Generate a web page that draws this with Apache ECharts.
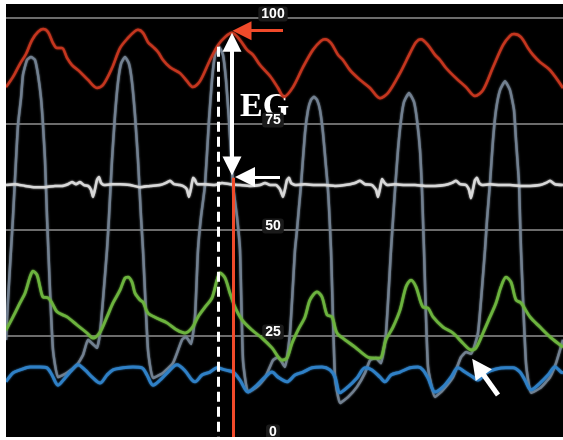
<!DOCTYPE html>
<html><head><meta charset="utf-8">
<script src="https://cdn.jsdelivr.net/npm/echarts@6/dist/echarts.min.js"></script>
<style>html,body{margin:0;padding:0;background:#000;}#c{width:563px;height:440px;}</style>
</head><body><div id="c"></div>
<script>
// x = time (sample index), y = pressure (mmHg)
const yTickStep = 25;

const aorticPressure = [[6,83.7],[13,86.1],[20,89.2],[26,91.5],[32,94.8],[38,96.7],[43,97.4],[48,96.7],[53,94.1],[57,92.9],[62,92.9],[67,90.6],[72,88.9],[80,87.3],[88,85.4],[97,83.5],[103,84.2],[112,88.2],[120,92.9],[128,95.3],[135,96.9],[138,97.2],[143,96.5],[148,94.3],[153,93.2],[158,92.0],[163,90.1],[170,88.4],[180,87.0],[187,85.1],[193,83.7],[200,85.1],[210,90.1],[218,93.6],[225,95.5],[232,96.5],[240,94.8],[247,92.5],[253,91.3],[260,88.9],[270,86.3],[278,83.5],[284,81.4],[293,83.7],[303,88.4],[313,92.5],[321,94.6],[325,95.0],[331,94.1],[338,91.3],[343,90.1],[350,87.7],[360,85.4],[370,83.5],[380,81.1],[388,82.3],[400,87.0],[410,91.7],[416,94.3],[421,95.0],[428,93.6],[435,91.3],[440,90.1],[446,88.2],[456,85.8],[466,83.7],[475,81.6],[483,83.0],[493,88.4],[503,93.6],[510,95.8],[514,96.2],[521,95.5],[528,92.9],[533,91.3],[540,89.6],[550,87.7],[563,83.5]];

const lvPressure = [[6,24.1],[8,33.5],[11,45.3],[13,53.1],[16,66.5],[18,74.8],[21,81.1],[23,86.6],[27,90.1],[31,90.8],[35,90.1],[38,86.6],[41,81.1],[43,74.8],[45,66.5],[47,53.1],[50,35.8],[53,21.7],[58,15.3],[67,16.3],[77,18.2],[83,20.5],[88,24.1],[92,23.3],[97,22.2],[100,25.7],[103,33.5],[107,45.3],[109,53.1],[112,66.5],[115,77.1],[118,84.9],[121,89.2],[125,90.8],[129,89.2],[132,84.9],[135,77.1],[138,66.5],[141,53.1],[143,45.3],[148,21.7],[153,15.1],[163,16.3],[173,18.6],[182,24.1],[186,24.8],[191,23.1],[195,29.5],[198,45.3],[201,53.1],[205,60.6],[209,75.9],[212,85.4],[215,91.3],[219,93.2],[223,91.3],[226,85.4],[229,75.9],[233,60.6],[237,53.1],[240,45.3],[243,19.3],[248,11.8],[257,13.0],[265,15.1],[273,19.3],[278,20.0],[285,17.7],[290,25.7],[295,45.3],[297,50.0],[299,55.4],[301,60.6],[305,72.9],[308,78.3],[311,80.7],[314,81.4],[317,80.7],[320,78.3],[323,72.9],[326,64.9],[328,59.4],[329,55.4],[331,45.3],[335,15.3],[340,9.2],[348,10.6],[357,13.0],[365,16.3],[370,19.3],[376,19.8],[381,18.6],[386,25.7],[391,45.3],[393,52.4],[395,59.4],[398,68.9],[401,75.9],[404,80.2],[409,82.3],[414,80.2],[417,75.9],[420,68.9],[422,59.4],[423,52.4],[424,45.3],[428,17.7],[435,10.6],[443,12.3],[453,15.3],[461,20.0],[466,21.2],[471,20.8],[478,25.7],[485,45.3],[487,52.4],[490,61.1],[493,71.2],[496,78.3],[500,83.0],[505,85.1],[510,83.0],[514,78.3],[516,71.2],[519,61.1],[520,53.1],[521,45.3],[526,18.6],[531,11.6],[540,12.7],[550,15.3],[556,18.6],[563,24.1]];

const ecgTrace = [[6,60.6],[15,60.8],[25,60.4],[35,60.1],[45,60.1],[55,60.4],[62,60.4],[68,60.8],[72,61.3],[76,60.8],[80,61.3],[84,60.6],[88,60.4],[91,59.5],[93,57.8],[95,59.6],[97,61.8],[99,62.5],[101,61.1],[104,60.6],[112,60.8],[120,60.8],[130,60.6],[140,60.1],[150,60.4],[160,60.6],[166,61.1],[170,61.6],[174,60.8],[180,60.6],[185,60.1],[187,59.5],[189,57.8],[191,59.8],[193,62.3],[195,61.8],[197,60.8],[205,60.8],[215,60.6],[222,61.1],[230,60.8],[240,60.6],[250,60.4],[260,60.6],[265,61.1],[270,60.6],[276,60.6],[280,59.6],[283,57.8],[285,59.6],[287,61.8],[289,62.3],[291,61.1],[295,60.6],[305,60.8],[315,60.6],[325,60.6],[335,60.4],[345,60.6],[355,61.1],[360,61.6],[365,60.8],[372,60.6],[376,59.5],[378,57.8],[380,59.8],[382,62.0],[384,61.3],[387,60.6],[395,60.8],[405,60.6],[415,60.6],[425,60.4],[435,60.4],[445,60.6],[452,61.1],[456,61.6],[460,60.8],[466,60.6],[469,59.5],[471,57.5],[473,59.6],[475,61.8],[477,62.3],[479,61.1],[482,60.6],[490,60.8],[500,60.6],[510,60.6],[520,60.4],[530,60.4],[540,60.6],[546,61.1],[550,61.6],[555,60.8],[563,60.6]];

const laPressure = [[6,26.4],[13,29.5],[20,32.8],[25,35.1],[30,38.9],[33,40.3],[37,39.4],[40,36.6],[43,34.2],[48,34.0],[52,32.8],[57,30.7],[67,29.5],[77,27.6],[87,25.7],[93,24.5],[100,25.9],[107,29.5],[113,32.8],[120,35.8],[125,38.7],[128,38.9],[132,37.7],[135,35.1],[140,33.5],[143,33.0],[148,30.4],[157,29.2],[167,28.1],[177,26.4],[185,25.7],[192,26.9],[198,29.5],[205,31.8],[212,34.0],[217,38.2],[220,39.9],[225,38.7],[230,35.1],[235,31.8],[242,28.8],[252,26.4],[262,24.5],[272,22.2],[282,19.3],[287,19.8],[292,23.3],[298,26.4],[305,29.5],[310,33.5],[317,35.4],[322,34.2],[327,30.0],[332,29.5],[337,25.7],[345,24.1],[355,22.4],[368,20.0],[375,19.8],[380,19.8],[386,24.1],[393,27.1],[400,31.1],[406,36.6],[411,38.2],[416,36.6],[423,31.8],[428,31.6],[433,29.5],[443,27.1],[453,25.7],[463,23.3],[471,21.7],[476,22.2],[483,25.7],[490,29.5],[496,32.8],[501,36.6],[506,38.9],[511,37.7],[516,33.5],[521,32.8],[530,29.5],[540,27.1],[550,24.8],[560,22.9],[563,22.4]];

const rvPressure = [[6,14.2],[13,16.3],[20,17.0],[30,17.7],[40,17.7],[47,17.5],[52,15.8],[58,13.4],[65,15.1],[72,17.0],[78,18.2],[85,17.0],[93,15.1],[100,13.9],[107,15.8],[113,17.0],[123,17.5],[133,17.7],[142,17.5],[147,15.8],[153,13.4],[160,14.6],[168,16.5],[177,18.2],[185,16.8],[192,14.6],[195,14.2],[202,15.8],[210,16.5],[217,17.5],[225,17.0],[233,16.5],[240,14.6],[248,11.8],[257,13.4],[265,15.3],[272,16.5],[278,15.3],[287,14.2],[295,15.8],[303,16.5],[312,17.5],[322,17.7],[330,17.0],[335,15.3],[340,11.6],[348,13.0],[357,15.1],[365,17.5],[372,17.0],[380,15.3],[385,14.2],[391,15.8],[400,16.5],[410,17.5],[418,17.7],[423,17.0],[428,15.1],[435,11.8],[443,13.0],[451,15.3],[458,17.5],[465,16.5],[473,15.3],[478,14.6],[486,16.3],[496,17.2],[506,17.5],[513,17.5],[520,16.5],[525,14.6],[531,12.3],[540,13.9],[548,15.8],[555,17.7],[561,16.5],[563,16.3]];

// annotation positions (data coords)
const markerTime = 233;       // red cursor
const dashedTime = 218;       // white dashed cursor
const peakAortic = 97.0;
const ecgLevel = 62.5;

const chart = echarts.init(document.getElementById('c'), null, {renderer: 'canvas'});

function lineSeries(name, data, color, width, smooth, z) {
  return {
    name, type: 'line', data, showSymbol: false, smooth, z,
    lineStyle: {color, width, shadowColor: color, shadowBlur: 2},
    silent: true, animation: false
  };
}

const option = {
  backgroundColor: '#000',
  animation: false,
  grid: {left: 5, right: 0, top: 18, height: 424, outerBoundsMode: 'none', containLabel: false},
  xAxis: {type: 'value', min: 5, max: 563, show: false},
  yAxis: {
    type: 'value', min: 0, max: 100, interval: yTickStep,
    position: 'left', offset: -268,
    axisLine: {show: false, onZero: false}, axisTick: {show: false},
    splitLine: {show: true, lineStyle: {color: '#6c6c6c', width: 2}},
    axisLabel: {
      margin: 0, align: 'center', verticalAlign: 'middle',
      formatter: v => '{n|' + v + '}\n' + (v === 0 ? '{t| }' : '{s| }'),
      rich: {
        n: {color: '#fff', backgroundColor: '#1a1a1a', borderRadius: 3, padding: [1, 3, 0, 3],
            fontSize: 14, fontWeight: 'bold', fontFamily: 'Liberation Sans', lineHeight: 13},
        s: {fontSize: 1, lineHeight: 8},
        t: {fontSize: 1, lineHeight: 20}
      }
    }
  },
  series: [
    lineSeries('LV', lvPressure, '#728090', 2.5, 0.15, 2),
    lineSeries('RV', rvPressure, '#2f80c6', 3, 0.3, 3),
    lineSeries('LA', laPressure, '#6cb33e', 2.8, 0.3, 3),
    lineSeries('Ao', aorticPressure, '#c4361f', 2.5, 0.3, 4),
    lineSeries('ECG', ecgTrace, '#d8d8d8', 2.5, 0.15, 4),
    {
      type: 'line', data: [], z: 6, silent: true,
      markLine: {
        silent: true, animation: false, label: {show: false},
        emphasis: {disabled: true},
        symbol: ['none', 'none'],
        data: [
          [{coord: [dashedTime, 93.2], lineStyle: {color: '#fff', width: 3, type: [10, 5]}}, {coord: [dashedTime, 0]}],
          [{coord: [markerTime, 62.3], lineStyle: {color: '#f04a2a', width: 3, type: 'solid'}}, {coord: [markerTime, 0]}],
          [{coord: [markerTime - 1, 94.3], symbol: 'triangle', symbolSize: 19, lineStyle: {color: '#fff', width: 4, type: 'solid'}, itemStyle: {color: '#fff'}},
           {coord: [markerTime - 1, 65.1], symbol: 'triangle', symbolSize: 19}],
          [{coord: [283, peakAortic], symbol: 'none', lineStyle: {color: '#f04a2a', width: 3, type: 'solid'}, itemStyle: {color: '#f04a2a'}},
           {coord: [242, peakAortic], symbol: 'triangle', symbolSize: 19}],
          [{coord: [280, ecgLevel], symbol: 'none', lineStyle: {color: '#fff', width: 3, type: 'solid'}, itemStyle: {color: '#fff'}},
           {coord: [245, ecgLevel], symbol: 'triangle', symbolSize: 20}],
          [{coord: [498, 11.1], symbol: 'none', lineStyle: {color: '#fff', width: 5, type: 'solid'}, itemStyle: {color: '#fff'}},
           {coord: [478, 17.7], symbol: 'triangle', symbolSize: 20}]
        ]
      }
    }
  ],
  graphic: [
    {type: 'text', left: 240, top: 90, z: -1,
     style: {text: 'EG', fill: '#fff', font: 'bold 34px "Liberation Serif"'}},
    {type: 'rect', shape: {x: 0, y: 0, width: 6, height: 440}, style: {fill: '#fff'}, z: 100},
    {type: 'rect', shape: {x: 0, y: 0, width: 563, height: 4}, style: {fill: '#fff'}, z: 100},
    {type: 'rect', shape: {x: 0, y: 437, width: 563, height: 3}, style: {fill: '#fff'}, z: 100}
  ]
};
chart.setOption(option);
</script>
</body></html>
